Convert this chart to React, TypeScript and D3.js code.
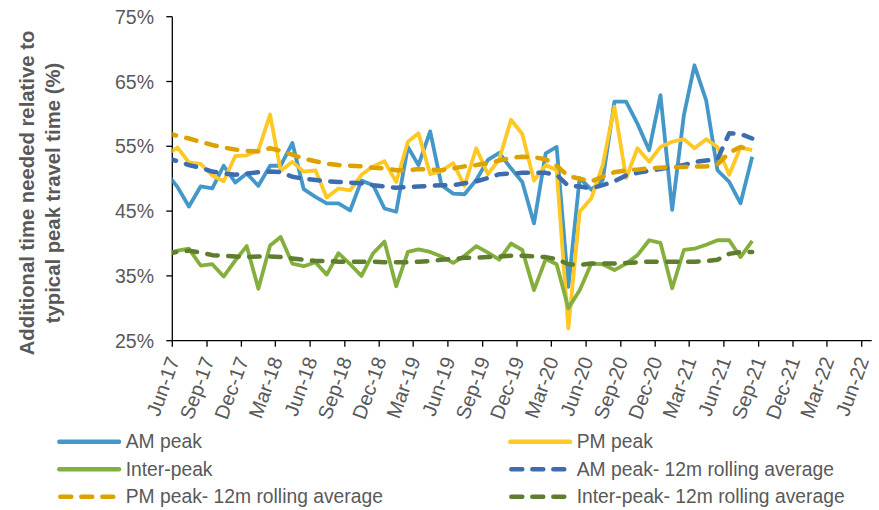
import React from "react";
import * as d3 from "d3";

// ---- Data (monthly, plotted mid-month; first point lies left of the axis and is clipped) ----
const months = [
  "May-17","Jun-17","Jul-17","Aug-17","Sep-17","Oct-17","Nov-17","Dec-17",
  "Jan-18","Feb-18","Mar-18","Apr-18","May-18","Jun-18","Jul-18","Aug-18","Sep-18","Oct-18","Nov-18","Dec-18",
  "Jan-19","Feb-19","Mar-19","Apr-19","May-19","Jun-19","Jul-19","Aug-19","Sep-19","Oct-19","Nov-19","Dec-19",
  "Jan-20","Feb-20","Mar-20","Apr-20","May-20","Jun-20","Jul-20","Aug-20","Sep-20","Oct-20","Nov-20","Dec-20",
  "Jan-21","Feb-21","Mar-21","Apr-21","May-21","Jun-21","Jul-21","Aug-21",
];

const amPeak = [
  51.0,
  48.7, 45.7, 48.8, 48.5, 52.0, 49.4, 50.8, 48.9, 52.0, 52.0,
  55.5, 48.4, 47.2, 46.2, 46.2, 45.1, 49.7, 49.0, 45.4, 44.9,
  54.9, 52.1, 57.3, 49.0, 47.7, 47.6, 49.8, 52.9, 54.0, 51.6,
  49.5, 43.1, 53.9, 54.9, 33.3, 50.1, 48.3, 49.8, 61.9, 61.9,
  58.5, 54.4, 62.9, 45.2, 59.8, 67.5, 62.1, 51.3, 49.5, 46.2,
  53.4,
];

const pmPeak = [
  53.7,
  54.8, 52.5, 52.3, 50.5, 49.6, 53.5, 53.6, 54.4, 59.9, 51.2,
  52.6, 51.1, 51.3, 47.1, 48.5, 48.2, 50.6, 51.9, 52.7, 49.5,
  55.7, 57.0, 50.7, 51.2, 52.4, 48.9, 54.7, 50.7, 53.0, 59.1,
  56.9, 49.7, 52.1, 51.3, 26.9, 44.9, 47.0, 52.1, 61.1, 50.1,
  54.7, 52.6, 54.9, 55.7, 56.1, 54.7, 56.1, 54.9, 50.6, 54.8,
  54.4,
];

const interPeak = [
  38.4,
  38.9, 39.2, 36.6, 36.8, 34.9, 37.4, 39.6, 33.0, 39.7, 41.0,
  36.9, 36.5, 37.1, 35.2, 38.5, 36.8, 35.0, 38.5, 40.3, 33.4,
  38.7, 39.1, 38.7, 38.0, 37.0, 38.1, 39.6, 38.6, 37.5, 40.0,
  39.0, 32.8, 37.6, 36.8, 30.0, 32.8, 36.9, 36.8, 35.9, 36.9,
  38.2, 40.5, 40.1, 33.1, 39.0, 39.2, 39.8, 40.5, 40.5, 37.9,
  40.4,
];

const amAvg = [
  53.2,
  52.7, 52.1, 51.7, 51.1, 50.8, 50.6, 50.8, 51.0, 51.1, 51.0,
  50.3, 50.0, 49.8, 49.6, 49.5, 49.4, 49.3, 49.0, 48.8, 48.6,
  48.7, 48.8, 48.9, 49.0, 49.0, 49.3, 49.6, 50.1, 50.7, 50.8,
  50.9, 50.9, 50.9, 50.6, 48.9, 48.8, 48.5, 49.0, 49.6, 50.5,
  50.9, 51.2, 51.5, 51.8, 52.1, 52.6, 52.8, 53.0, 57.0, 56.9,
  56.2,
];

const pmAvg = [
  57.1,
  56.6, 56.2, 55.7, 55.2, 54.8, 54.5, 54.3, 54.2, 54.7, 54.3,
  53.7, 53.1, 52.7, 52.3, 52.1, 52.0, 51.9, 51.7, 51.6, 51.3,
  51.3, 51.5, 51.4, 51.3, 51.6, 51.9, 52.1, 52.4, 52.8, 53.2,
  53.4, 53.3, 53.0, 52.0, 50.4, 50.0, 49.6, 50.3, 51.0, 51.3,
  51.4, 51.6, 51.7, 51.8, 51.8, 51.9, 51.9, 52.2, 54.0, 54.9,
  54.4,
];

const ipAvg = [
  38.4,
  38.7, 38.9, 38.6, 38.2, 38.1, 38.0, 37.9, 38.0, 38.0, 37.9,
  37.7, 37.5, 37.3, 37.3, 37.2, 37.2, 37.2, 37.2, 37.1, 37.1,
  37.1, 37.2, 37.3, 37.5, 37.6, 37.8, 37.8, 37.9, 38.0, 38.1,
  38.1, 38.0, 37.9, 37.6, 36.8, 36.7, 36.9, 36.9, 36.9, 37.0,
  37.1, 37.2, 37.2, 37.2, 37.2, 37.2, 37.3, 37.5, 38.4, 38.7,
  38.7,
];

const xTickLabels = [
  "Jun-17","Sep-17","Dec-17","Mar-18","Jun-18","Sep-18","Dec-18","Mar-19","Jun-19","Sep-19",
  "Dec-19","Mar-20","Jun-20","Sep-20","Dec-20","Mar-21","Jun-21","Sep-21","Dec-21","Mar-22","Jun-22",
];
const yTicks = [25, 35, 45, 55, 65, 75];

const seriesDefs = [
  { name: "AM peak", values: amPeak, color: "#4397C9", dashed: false },
  { name: "PM peak", values: pmPeak, color: "#FFC824", dashed: false },
  { name: "Inter-peak", values: interPeak, color: "#84AE3E", dashed: false },
  { name: "AM peak- 12m rolling average", values: amAvg, color: "#3D6DAE", dashed: true },
  { name: "PM peak- 12m rolling average", values: pmAvg, color: "#DBA200", dashed: true },
  { name: "Inter-peak- 12m rolling average", values: ipAvg, color: "#5E7D2E", dashed: true },
];

// ---- Layout ----
const W = 879;
const H = 510;
const X0 = 172.3;
const X_JUN22 = 861.7;
const X_END = 871.7;
const Y_TOP = 16.7;
const Y_BOT = 340.7;
const TEXT = "#595959";
const FONT = "'Liberation Sans', Arial, sans-serif";

const parseMonth = d3.utcParse("%b-%y");
const midMonth = (s: string) => {
  const d = parseMonth(s) as Date;
  return new Date(Date.UTC(d.getUTCFullYear(), d.getUTCMonth(), 15));
};
const startOfMonth = (s: string) => parseMonth(s) as Date;

const x = d3
  .scaleUtc()
  .domain([startOfMonth("Jun-17"), startOfMonth("Jun-22")])
  .range([X0, X_JUN22]);
const y = d3.scaleLinear().domain([25, 75]).range([Y_BOT, Y_TOP]);

const dates = months.map(midMonth);

export default function App() {
  const line = d3
    .line<number>()
    .x((_, i) => x(dates[i]))
    .y((v) => y(v));

  const legendRows = [
    [seriesDefs[0], seriesDefs[1]],
    [seriesDefs[2], seriesDefs[3]],
    [seriesDefs[4], seriesDefs[5]],
  ];
  const legendRowY = [441.7, 469.3, 496.7];
  const legendColX = [58.3, 509.3];
  const legendLineLen = 61.7;

  return (
    <svg
      width={W}
      height={H}
      style={{ position: "absolute", left: 0, top: 0, background: "#fff" }}
      fontFamily={FONT}
    >
      <defs>
        <clipPath id="plotClip">
          <rect x={X0} y={0} width={X_END - X0} height={H} />
        </clipPath>
      </defs>

      {/* Y axis label */}
      <g transform={`translate(0, 193) rotate(-90)`} fill={TEXT} fontWeight="bold" fontSize={20.3}>
        <text x={0} y={27.3} textAnchor="middle" dominantBaseline="central">
          Additional time needed relative to
        </text>
        <text x={0} y={52.7} textAnchor="middle" dominantBaseline="central">
          typical peak travel time (%)
        </text>
      </g>

      {/* Y axis */}
      <line x1={X0} x2={X0} y1={Y_TOP} y2={Y_BOT} stroke="#000" strokeWidth={1.3} />
      {yTicks.map((t) => (
        <g key={t}>
          <line x1={X0 - 6} x2={X0} y1={y(t)} y2={y(t)} stroke="#000" strokeWidth={1.3} />
          <text
            x={154}
            y={y(t)}
            textAnchor="end"
            dominantBaseline="central"
            fontSize={19.5}
            fill={TEXT}
          >
            {t}%
          </text>
        </g>
      ))}

      {/* X axis */}
      <line x1={X0} x2={X_END} y1={Y_BOT} y2={Y_BOT} stroke="#000" strokeWidth={1.3} />
      {xTickLabels.map((lab) => {
        const xp = x(startOfMonth(lab));
        return (
          <g key={lab}>
            <line x1={xp} x2={xp} y1={Y_BOT} y2={Y_BOT + 6} stroke="#000" strokeWidth={1.3} />
            <text
              transform={`translate(${xp + 1}, ${Y_BOT + 17}) rotate(-70)`}
              textAnchor="end"
              dominantBaseline="central"
              fontSize={20}
              fill={TEXT}
            >
              {lab}
            </text>
          </g>
        );
      })}

      {/* Series */}
      <g clipPath="url(#plotClip)">
        {seriesDefs.map((s) => (
          <path
            key={s.name}
            d={line(s.values) || ""}
            fill="none"
            stroke={s.color}
            strokeWidth={s.dashed ? 4.5 : 3.8}
            strokeDasharray={s.dashed ? "10.5 10.5" : undefined}
            strokeLinecap={s.dashed ? "round" : "butt"}
            strokeLinejoin="round"
          />
        ))}
      </g>

      {/* Legend */}
      {legendRows.map((row, ri) =>
        row.map((s, ci) => {
          const lx = legendColX[ci];
          const ly = legendRowY[ri];
          return (
            <g key={s.name}>
              <line
                x1={lx + (s.dashed ? 2 : 1)}
                x2={lx + legendLineLen - (s.dashed ? 2 : 1)}
                y1={ly}
                y2={ly}
                stroke={s.color}
                strokeWidth={4.5}
                strokeLinecap="round"
                strokeDasharray={s.dashed ? "11 10" : undefined}
              />
              <text
                x={lx + 67.4}
                y={ly}
                dominantBaseline="central"
                fontSize={19.3}
                fill={TEXT}
              >
                {s.name}
              </text>
            </g>
          );
        })
      )}
    </svg>
  );
}
